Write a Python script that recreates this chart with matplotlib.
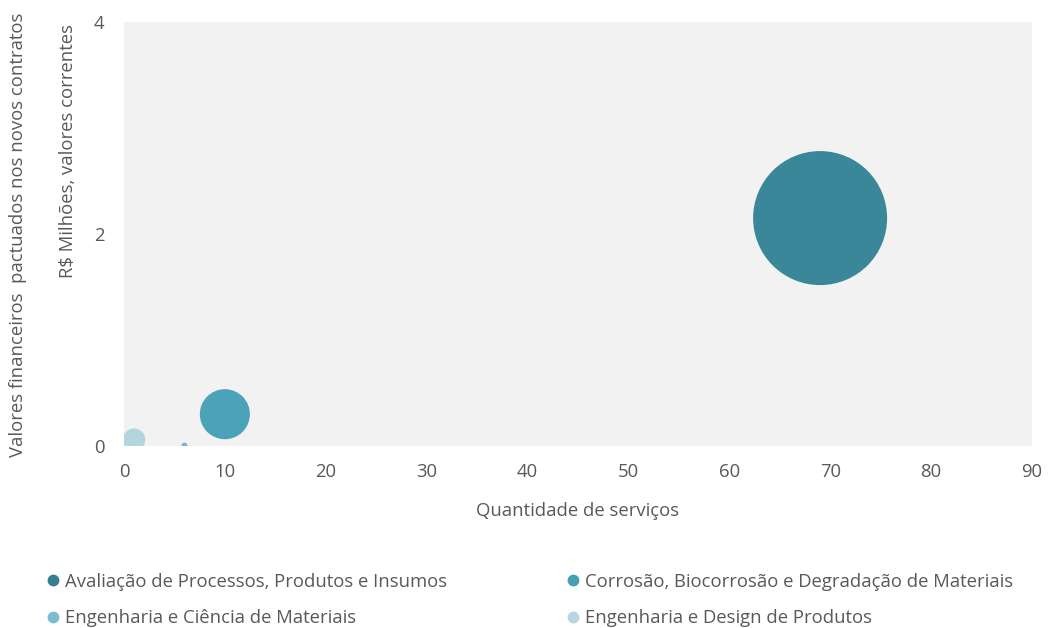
import matplotlib.pyplot as plt
from matplotlib.lines import Line2D

plt.rcParams['font.family'] = ['Open Sans', 'DejaVu Sans']

categorias = [
    "Avaliação de Processos, Produtos e Insumos",
    "Corrosão, Biocorrosão e Degradação de Materiais",
    "Engenharia e Ciência de Materiais",
    "Engenharia e Design de Produtos",
]
quantidade = [69, 10, 6, 1]
valores = [2.15, 0.30, 0.004, 0.06]
cores = ["#3a8799", "#4aa3b8", "#6db6c9", "#b3d5df"]
cores_legenda = ["#367f91", "#45a0b6", "#7bbdd0", "#b6d6e0"]

x_ticks = list(range(0, 91, 10))
y_ticks = [0, 2, 4]

texto = "#595959"
fs = 13.3

fig = plt.figure(figsize=(10.48, 6.28), dpi=100)
ax = fig.add_axes([0.1183, 0.2898, 0.8664, 0.6752])
ax.set_facecolor("#f2f2f2")

escala = 4330
for q, v, c in zip(quantidade, valores, cores):
    ax.scatter(q, v, s=v * escala, color=c, edgecolors="none", zorder=3)

ax.set_xlim(0, 90)
ax.set_ylim(0, 4)
ax.set_xticks(x_ticks)
ax.set_yticks(y_ticks)
ax.tick_params(length=0, labelsize=fs, colors=texto)
ax.tick_params(axis="x", pad=12)
ax.tick_params(axis="y", pad=14)
for s in ax.spines.values():
    s.set_visible(False)

ax.set_xlabel("Quantidade de serviços", fontsize=fs, color=texto, labelpad=15)

fig.text(0.0172, 0.626, "Valores financeiros  pactuados nos novos contratos",
         rotation=90, ha="center", va="center", fontsize=fs, color=texto)
fig.text(0.065, 0.7596, "R$ Milhões, valores correntes",
         rotation=90, ha="center", va="center", fontsize=fs, color=texto)

ordem = [0, 2, 1, 3]
handles = [Line2D([], [], marker="o", linestyle="none", markersize=8.5,
                  markerfacecolor=cores_legenda[i], markeredgecolor="none")
           for i in ordem]
labels = [categorias[i] for i in ordem]
leg = fig.legend(handles, labels, loc="center left", bbox_to_anchor=(0.026, 0.045),
                 ncol=2, frameon=False, fontsize=fs, handletextpad=0.15,
                 columnspacing=6.3, labelspacing=1.0, handlelength=1.0)
for t in leg.get_texts():
    t.set_color(texto)

fig.savefig("out.png", dpi=100)
